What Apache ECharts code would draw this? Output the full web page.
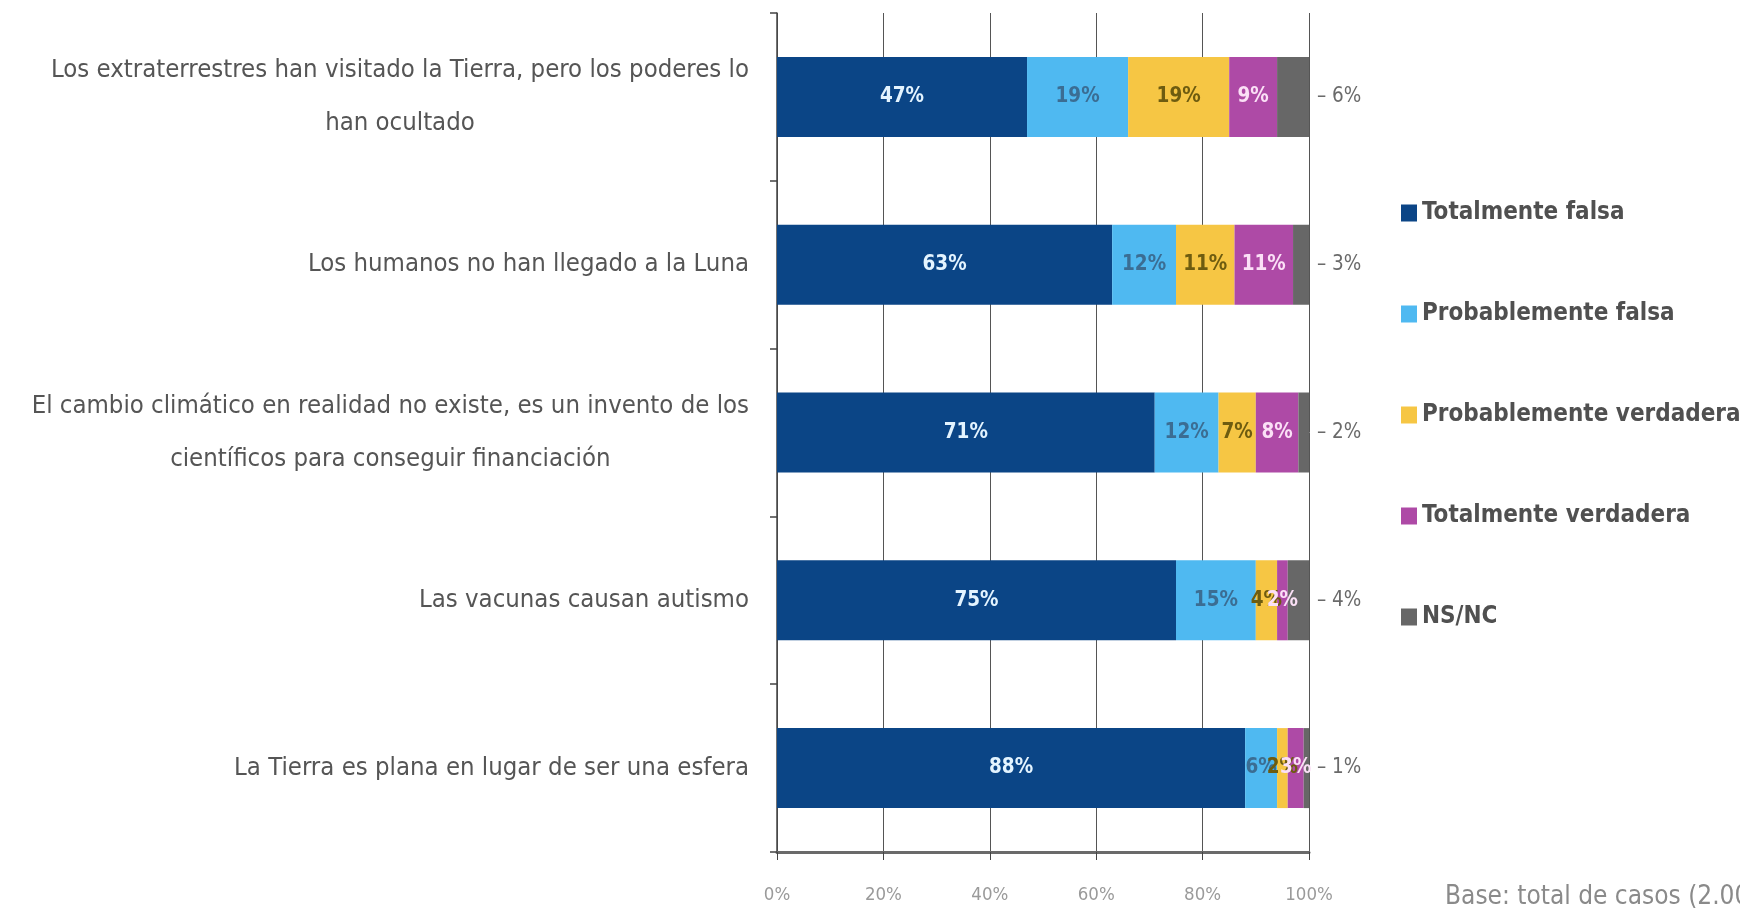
<!DOCTYPE html>
<html>
<head>
<meta charset="utf-8">
<script src="https://cdn.jsdelivr.net/npm/echarts@6/dist/echarts.min.js"></script>
<style>
  html, body { margin: 0; padding: 0; background: #ffffff; }
  #chart { width: 1740px; height: 912px; }
</style>
</head>
<body>
<div id="chart"></div>
<script>
// Statements asked about (top to bottom)
const categories = [
  'Los extraterrestres han visitado la Tierra, pero los poderes lo\nhan ocultado',
  'Los humanos no han llegado a la Luna',
  'El cambio climático en realidad no existe, es un invento de los\ncientíficos para conseguir financiación',
  'Las vacunas causan autismo',
  'La Tierra es plana en lugar de ser una esfera'
];

const seriesNames = [
  'Totalmente falsa',
  'Probablemente falsa',
  'Probablemente verdadera',
  'Totalmente verdadera',
  'NS/NC'
];

// Share of answers, % per statement
const totalmenteFalsa       = [47, 63, 71, 75, 88];
const probablementeFalsa    = [19, 12, 12, 15, 6];
const probablementeVerdad   = [19, 11, 7, 4, 2];
const totalmenteVerdadera   = [9, 11, 8, 2, 3];
const nsnc                  = [6, 3, 2, 4, 1];

const xTicks = [0, 20, 40, 60, 80, 100];
const baseNote = 'Base: total de casos (2.000)';

const FONT = '"DejaVu Sans Condensed", "Liberation Sans", sans-serif';

const colors = ['#0b4586', '#4fb9f1', '#f6c644', '#ae4aa6', '#676767'];
const labelColors = ['#e4f4ff', '#3b6d93', '#6e5c10', '#fbe0f6', '#666666'];

const values = [totalmenteFalsa, probablementeFalsa, probablementeVerdad, totalmenteVerdadera, nsnc];

const series = values.map((vals, i) => {
  const s = {
    name: seriesNames[i],
    type: 'bar',
    stack: 'total',
    barWidth: 80,
    data: vals,
    itemStyle: { color: colors[i] },
    label: {
      show: true,
      position: 'inside',
      formatter: '{c}%',
      color: labelColors[i],
      fontFamily: FONT,
      fontSize: 20.5,
      fontWeight: 'bold'
    }
  };
  if (i === 4) {
    // NS/NC values sit outside the bar end, after a short leader dash
    s.label = {
      show: true,
      position: 'right',
      distance: 8,
      formatter: '– {c}%',
      color: '#6a6a6a',
      fontFamily: FONT,
      fontSize: 20.5
    };
  }
  return s;
});

const chart = echarts.init(document.getElementById('chart'));

chart.setOption({
  backgroundColor: '#ffffff',
  animation: false,
  grid: {
    left: 777, right: 431, top: 13, bottom: 60,
    containLabel: false,
    outerBoundsMode: 'none'
  },
  legend: {
    orient: 'vertical',
    left: 1396,
    top: 193,
    icon: 'rect',
    itemWidth: 16,
    itemHeight: 17,
    itemGap: 71,
    data: seriesNames,
    textStyle: {
      fontFamily: FONT,
      fontSize: 24,
      fontWeight: 'bold',
      color: '#505050',
      lineHeight: 30
    }
  },
  xAxis: {
    type: 'value',
    min: 0,
    max: 100,
    interval: 20,
    axisLine: { show: true, lineStyle: { color: '#6a6a6a', width: 3 } },
    axisTick: { show: true, length: 8, lineStyle: { color: '#444444', width: 1 } },
    splitLine: { show: true, lineStyle: { color: '#555555', width: 1 } },
    axisLabel: {
      margin: 34,
      color: '#9a9a9a',
      fontFamily: FONT,
      fontSize: 18.5,
      formatter: (v) => xTicks.includes(v) ? v + '%' : ''
    }
  },
  yAxis: {
    type: 'category',
    inverse: true,
    data: categories,
    axisLine: { show: true, lineStyle: { color: '#444444', width: 1.5 } },
    axisTick: { show: true, length: 7, lineStyle: { color: '#444444', width: 1.5 } },
    axisLabel: {
      margin: 28,
      align: 'right',
      formatter: (v) => v.split('\n').map((line) => '{c|' + line + '}').join('\n'),
      rich: {
        c: {
          align: 'center',
          fontFamily: FONT,
          fontSize: 25.5,
          color: '#555555',
          lineHeight: 53
        }
      }
    }
  },
  graphic: [
    {
      type: 'text',
      left: 1445,
      top: 884,
      style: {
        text: baseNote,
        fontFamily: FONT,
        fontSize: 26,
        fill: '#8a8a8a'
      }
    }
  ],
  series: series
});
</script>
</body>
</html>
